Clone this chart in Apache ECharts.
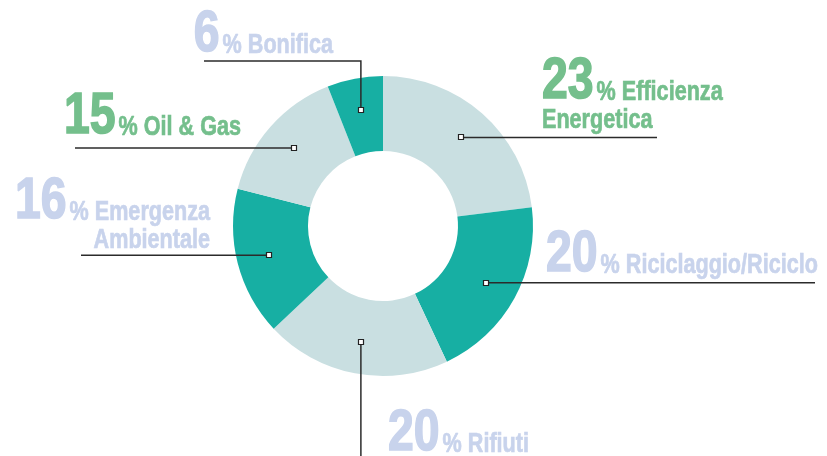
<!DOCTYPE html>
<html>
<head>
<meta charset="utf-8">
<script src="https://cdn.jsdelivr.net/npm/echarts@6.0.0/dist/echarts.min.js"></script>
<style>
html,body{margin:0;padding:0;background:#fff;}
#chart{width:827px;height:456px;}
</style>
</head>
<body>
<div id="chart"></div>
<script>
// ---- data ----
const categories = ['Efficienza Energetica', 'Riciclaggio/Riciclo', 'Rifiuti', 'Emergenza Ambientale', 'Oil & Gas', 'Bonifica'];
const values = [23, 20, 20, 16, 15, 6];
const labelLines = [['Efficienza', 'Energetica'], ['Riciclaggio/Riciclo'], ['Rifiuti'], ['Emergenza', 'Ambientale'], ['Oil & Gas'], ['Bonifica']];

// ---- style / layout ----
const TEAL = '#17AFA3', LIGHT = '#C9DFE1';
const GREEN = '#74BF8C', LAV = '#C8D3EC';
const sliceColors = [LIGHT, TEAL, LIGHT, TEAL, LIGHT, TEAL];
const CX = 383, CY = 226, R_IN = 75, R_OUT = 150, R_ANCHOR = 118;
const FONT_FAMILY = '"Liberation Sans", Arial, sans-serif';
const SX = 0.8; // horizontal condensing of the text
const BIG = 58, SMALL = 27, LINE_GAP = 28;
const LAYOUT = [
  {leader: 'h', end: 657, align: 'left', x: 542, base: 102, color: GREEN},
  {leader: 'h', end: 815, align: 'left', x: 546, base: 275, color: LAV},
  {leader: 'v', end: 456, align: 'left', x: 388, base: 454, color: LAV},
  {leader: 'h', end: 81, align: 'right', x: 210, base: 222, color: LAV},
  {leader: 'h', end: 75, align: 'right', x: 241, base: 137, color: GREEN},
  {leader: 'vh', turn: 61, end: 204, align: 'right', x: 333, base: 55, color: LAV}
];

const ctx = document.createElement('canvas').getContext('2d');
function measure(text, size) {
  ctx.font = 'bold ' + size + 'px ' + FONT_FAMILY;
  return ctx.measureText(text).width * SX;
}
function font(size) { return 'bold ' + size + 'px ' + FONT_FAMILY; }
function midY(base, size) { return base - 0.3465 * size; }
function textEl(x, y, text, size, color, align) {
  return {type: 'text', z: 100, silent: true, x: x, y: y, scaleX: SX,
    style: {text: text, font: font(size), fill: color, stroke: color,
            lineWidth: size > 40 ? 1.6 : 0.7,
            align: align, verticalAlign: 'middle',
            textAlign: align, textVerticalAlign: 'middle'}};
}

const total = values.reduce((a, b) => a + b, 0);
const graphics = [];
let acc = 0;
values.forEach((v, i) => {
  const midFrac = (acc + v / 2) / total;
  acc += v;
  const ang = midFrac * 2 * Math.PI; // clockwise from 12 o'clock
  const ax = CX + R_ANCHOR * Math.sin(ang);
  const ay = CY - R_ANCHOR * Math.cos(ang);
  const L = LAYOUT[i];
  let pts;
  if (L.leader === 'h') pts = [[ax, ay], [L.end, ay]];
  else if (L.leader === 'v') pts = [[ax, ay], [ax, L.end]];
  else pts = [[ax, ay], [ax, L.turn], [L.end, L.turn]];
  graphics.push({type: 'polyline', z: 100, silent: true,
    shape: {points: pts}, style: {stroke: '#2b2b2b', lineWidth: 1.5, fill: null}});
  graphics.push({type: 'rect', z: 101, silent: true,
    shape: {x: Math.round(ax) - 2.5, y: Math.round(ay) - 2.5, width: 5, height: 5},
    style: {fill: '#fff', stroke: '#222', lineWidth: 1.2}});

  const num = String(values[i]);
  const lines = labelLines[i];
  const first = '% ' + lines[0];
  const numW = measure(num, BIG);
  const firstW = measure(first, SMALL);
  const gap = 3;
  let numX, firstX;
  if (L.align === 'left') { numX = L.x; firstX = L.x + numW + gap; }
  else { firstX = L.x - firstW; numX = firstX - gap - numW; }
  graphics.push(textEl(numX, midY(L.base, BIG), num, BIG, L.color, 'left'));
  graphics.push(textEl(firstX, midY(L.base, SMALL), first, SMALL, L.color, 'left'));
  for (let k = 1; k < lines.length; k++) {
    const b = L.base + LINE_GAP * k;
    const x = L.align === 'left' ? numX : L.x;
    graphics.push(textEl(x, midY(b, SMALL), lines[k], SMALL, L.color, L.align));
  }
});

const chart = echarts.init(document.getElementById('chart'), null, {renderer: 'canvas'});
chart.setOption({
  animation: false,
  backgroundColor: '#fff',
  series: [{
    type: 'pie',
    center: [CX, CY],
    radius: [R_IN, R_OUT],
    startAngle: 90,
    clockwise: true,
    silent: true,
    label: {show: false},
    labelLine: {show: false},
    emphasis: {disabled: true},
    itemStyle: {borderWidth: 0},
    data: categories.map((c, i) => ({name: c, value: values[i], itemStyle: {color: sliceColors[i]}}))
  }],
  graphic: {elements: graphics}
});
</script>
</body>
</html>
